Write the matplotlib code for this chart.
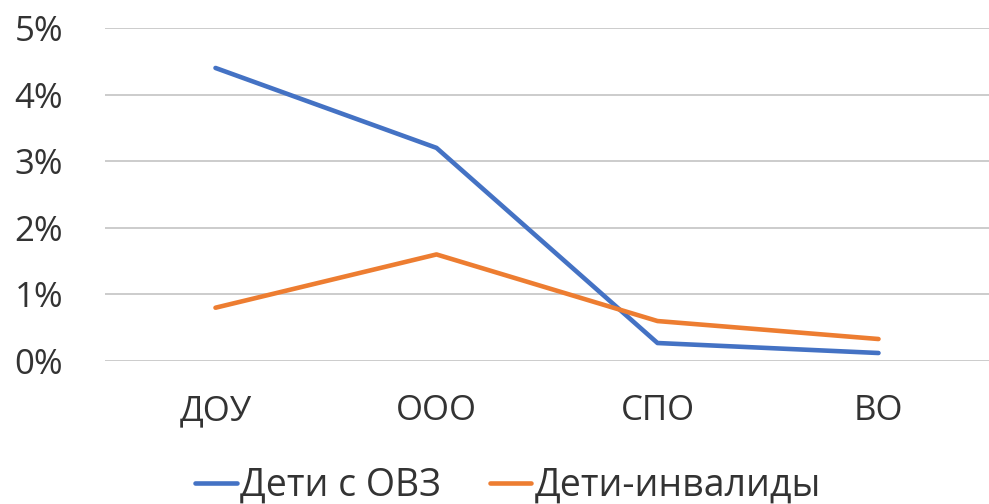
import matplotlib.pyplot as plt

plt.rcParams['font.family'] = ['Open Sans', 'DejaVu Sans']

categories = ['ДОУ', 'ООО', 'СПО', 'ВО']
ovz = [4.4, 3.2, 0.27, 0.12]
invalid = [0.8, 1.6, 0.6, 0.33]
series_names = ['Дети с ОВЗ', 'Дети-инвалиды']
y_ticks = [0, 1, 2, 3, 4, 5]

fig = plt.figure(figsize=(9.89, 5.04), dpi=100)
ax = fig.add_axes([105 / 989, 1 - 361 / 504, 1 - 105 / 989, 333 / 504])

x = list(range(len(categories)))
ax.plot(x, ovz, color='#4472C4', lw=3.3, solid_capstyle='round', label=series_names[0])
ax.plot(x, invalid, color='#ED7D31', lw=3.3, solid_capstyle='round', label=series_names[1])

ax.set_xlim(-0.5, len(categories) - 0.5)
ax.set_ylim(0, 5)
ax.set_yticks(y_ticks)
ax.set_yticklabels([f'{v}%' for v in y_ticks])
ax.set_xticks(x)
ax.set_xticklabels(categories)
ax.tick_params(axis='y', length=0, pad=30, labelsize=25, labelcolor='#333333')
ax.tick_params(axis='x', length=0, pad=24, labelsize=25, labelcolor='#333333')
ax.grid(axis='y', color='#c8c8c8', lw=1.3)
ax.set_axisbelow(True)
for s in ax.spines.values():
    s.set_visible(False)

fig.legend(loc='center', bbox_to_anchor=(0.514, 0.036), ncol=2, frameon=False,
           fontsize=27, handlelength=1.1, handletextpad=0.1, columnspacing=1.3,
           labelcolor='#333333')

plt.savefig('out.png')
